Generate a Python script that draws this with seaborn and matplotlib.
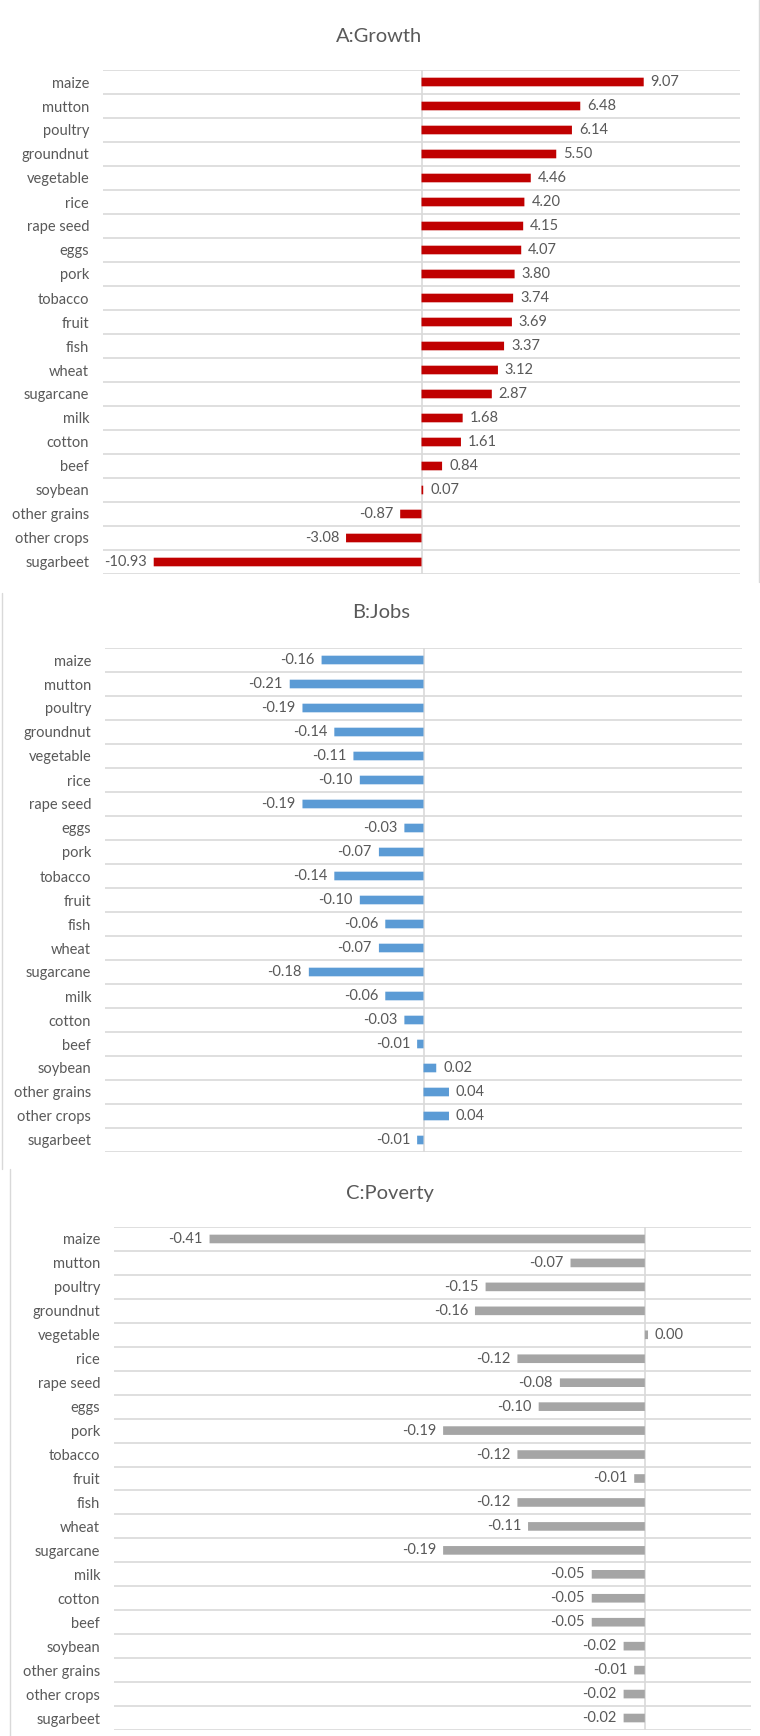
import numpy as np
import pandas as pd
import matplotlib
matplotlib.use("Agg")
import matplotlib.pyplot as plt
from matplotlib.lines import Line2D
import seaborn as sns

# Commodities, top to bottom
products = ["maize", "mutton", "poultry", "groundnut", "vegetable", "rice",
            "rape seed", "eggs", "pork", "tobacco", "fruit", "fish", "wheat",
            "sugarcane", "milk", "cotton", "beef", "soybean", "other grains",
            "other crops", "sugarbeet"]

growth = [9.07, 6.48, 6.14, 5.50, 4.46, 4.20, 4.15, 4.07, 3.80, 3.74, 3.69,
          3.37, 3.12, 2.87, 1.68, 1.61, 0.84, 0.07, -0.87, -3.08, -10.93]

jobs = [-0.16, -0.21, -0.19, -0.14, -0.11, -0.10, -0.19, -0.03, -0.07, -0.14,
        -0.10, -0.06, -0.07, -0.18, -0.06, -0.03, -0.01, 0.02, 0.04, 0.04, -0.01]

poverty = [-0.41, -0.07, -0.15, -0.16, 0.003, -0.12, -0.08, -0.10, -0.19, -0.12,
           -0.01, -0.12, -0.11, -0.19, -0.05, -0.05, -0.05, -0.02, -0.01, -0.02, -0.02]

titles = ["A:Growth", "B:Jobs", "C:Poverty"]

sns.set_theme(style="white")
plt.rcParams["font.family"] = ["Lato", "DejaVu Sans"]

TEXT = "#595959"
GRID = "#d9d9d9"
W, H = 760, 1736

fig = plt.figure(figsize=(W / 100, H / 100), dpi=100)


def axes_px(x0, x1, y0, y1):
    return fig.add_axes([x0 / W, 1 - y1 / H, (x1 - x0) / W, (y1 - y0) / H])


panels = [
    dict(vals=growth, color="#C00000", box=(103, 740, 70, 574), xlim=(-13, 13),
         title_xy=(379, 36)),
    dict(vals=jobs, color="#5B9BD5", box=(105, 742, 648, 1152), xlim=(-0.5, 0.5),
         title_xy=(381, 612)),
    dict(vals=poverty, color="#A5A5A5", box=(114, 751, 1227, 1730), xlim=(-0.5, 0.1),
         title_xy=(390, 1193)),
]

for p, title in zip(panels, titles):
    ax = axes_px(*p["box"])
    df = pd.DataFrame({"product": products, "value": p["vals"]})
    sns.barplot(data=df, x="value", y="product", color=p["color"], width=0.36,
                saturation=1, ax=ax, errorbar=None, linewidth=0)
    for bar in ax.containers[0]:
        bar.set_snap(False)
        bar.set_zorder(2)
    ax.set_xlim(*p["xlim"])
    ax.set_ylim(len(products) - 0.5, -0.5)
    ax.set_xlabel("")
    ax.set_ylabel("")
    ax.set_xticks([])
    for s in ax.spines.values():
        s.set_visible(False)
    ax.set_yticks(np.arange(-0.5, len(products), 1), minor=True)
    ax.grid(False)
    ax.grid(which="minor", axis="y", color=GRID, linewidth=1.2)
    ax.axvline(0, color=GRID, linewidth=1.2, zorder=0.5)
    ax.tick_params(axis="y", which="both", length=0, pad=10,
                   labelsize=10.5, labelcolor=TEXT)
    ax.bar_label(ax.containers[0], fmt="%.2f", padding=5,
                 fontsize=10.5, color=TEXT)
    fig.text(p["title_xy"][0] / W, 1 - p["title_xy"][1] / H, title,
             ha="center", va="center", fontsize=14.5, color=TEXT)

# Frames of the three chart panels
frame_kw = dict(transform=fig.transFigure, color="#d9d9d9", linewidth=1)
fig.add_artist(Line2D([759 / W, 759 / W], [1, 1 - 582 / H], **frame_kw))
fig.add_artist(Line2D([1.5 / W, 1.5 / W], [1 - 593 / H, 1 - 1169 / H], **frame_kw))
fig.add_artist(Line2D([9.5 / W, 9.5 / W], [1 - 1169 / H, 0], **frame_kw))

fig.savefig("out.png", dpi=100, facecolor="white")
